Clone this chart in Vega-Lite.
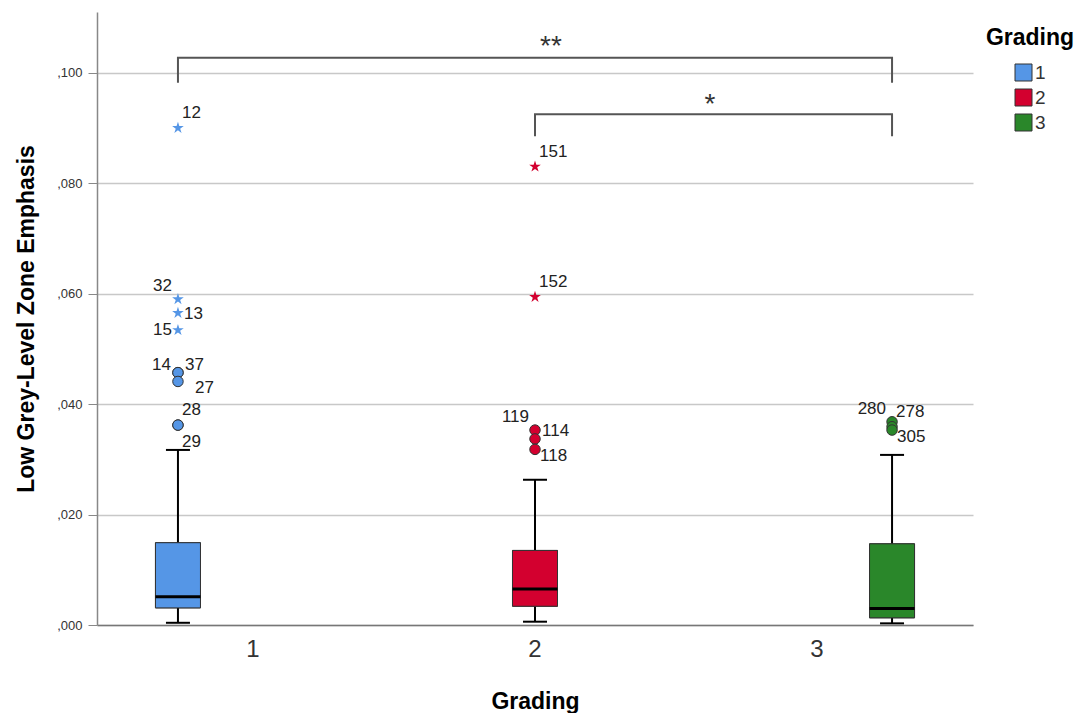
{
  "$schema": "https://vega.github.io/schema/vega-lite/v6.json",
  "width": 876,
  "height": 613,
  "autosize": {"type": "none"},
  "padding": {"left": 97, "top": 12, "right": 114, "bottom": 88},
  "background": "white",
  "config": {
    "view": {"stroke": null},
    "font": "Liberation Sans",
    "axisY": {
      "labelFontSize": 13,
      "labelColor": "#333333",
      "labelPadding": 6,
      "tickSize": 9,
      "tickColor": "#888888",
      "domainColor": "#888888",
      "domainWidth": 1.5,
      "grid": true,
      "gridColor": "#c8c8c8",
      "gridWidth": 1.5,
      "titleFontSize": 23,
      "titleFontWeight": "bold",
      "titleColor": "#000000",
      "titlePadding": 18
    },
    "axisX": {
      "ticks": false,
      "grid": false,
      "labelAngle": 0,
      "labelFontSize": 24,
      "labelColor": "#333333",
      "labelPadding": 12,
      "domainColor": "#777777",
      "domainWidth": 1.5,
      "titleFontSize": 23,
      "titleFontWeight": "bold",
      "titleColor": "#000000",
      "titlePadding": 29
    }
  },
  "datasets": {
    "box": [
      {"g": "1", "lo": 0.0004, "q1": 0.0031, "med": 0.0051, "q3": 0.0149, "hi": 0.0317},
      {"g": "2", "lo": 0.0006, "q1": 0.0034, "med": 0.0065, "q3": 0.0135, "hi": 0.0263},
      {"g": "3", "lo": 0.0003, "q1": 0.0013, "med": 0.0030, "q3": 0.0147, "hi": 0.0308}
    ],
    "out": [
      {"g": "1", "id": "12", "kind": "extreme", "v": 0.0900},
      {"g": "1", "id": "32", "kind": "extreme", "v": 0.0590},
      {"g": "1", "id": "13", "kind": "extreme", "v": 0.0565},
      {"g": "1", "id": "15", "kind": "extreme", "v": 0.0534},
      {"g": "1", "id": "14", "kind": "outlier", "v": 0.0457},
      {"g": "1", "id": "37", "kind": "outlier", "v": 0.0457},
      {"g": "1", "id": "27", "kind": "outlier", "v": 0.0441},
      {"g": "1", "id": "28", "kind": "outlier", "v": 0.0362},
      {"g": "1", "id": "29", "kind": "outlier", "v": 0.0362},
      {"g": "2", "id": "151", "kind": "extreme", "v": 0.0830},
      {"g": "2", "id": "152", "kind": "extreme", "v": 0.0594},
      {"g": "2", "id": "119", "kind": "outlier", "v": 0.0353},
      {"g": "2", "id": "114", "kind": "outlier", "v": 0.0337},
      {"g": "2", "id": "118", "kind": "outlier", "v": 0.0318},
      {"g": "3", "id": "280", "kind": "outlier", "v": 0.0368},
      {"g": "3", "id": "278", "kind": "outlier", "v": 0.0359},
      {"g": "3", "id": "305", "kind": "outlier", "v": 0.0353}
    ],
    "sig": [
      {"b": "A", "g": "1", "v": 0.0982, "s": 1},
      {"b": "A", "g": "1", "v": 0.1027, "s": 2},
      {"b": "A", "g": "3", "v": 0.1027, "s": 3},
      {"b": "A", "g": "3", "v": 0.0982, "s": 4},
      {"b": "B", "g": "2", "v": 0.0885, "s": 1},
      {"b": "B", "g": "2", "v": 0.0925, "s": 2},
      {"b": "B", "g": "3", "v": 0.0925, "s": 3},
      {"b": "B", "g": "3", "v": 0.0885, "s": 4}
    ]
  },
  "encoding": {
    "x": {
      "field": "g",
      "type": "nominal",
      "title": "Grading",
      "scale": {"domain": ["1", "2", "3"], "paddingInner": 0, "paddingOuter": 0.053}
    },
    "xOffset": {
      "field": "g",
      "type": "nominal",
      "scale": {"domain": ["1", "2", "3"], "paddingInner": 0.4, "paddingOuter": 0.58}
    }
  },
  "layer": [
    {
      "data": {"name": "box"},
      "mark": {"type": "bar", "stroke": "#333333", "strokeWidth": 1},
      "encoding": {
        "y": {
          "field": "q1",
          "type": "quantitative",
          "title": "Low Grey-Level Zone Emphasis",
          "scale": {"domain": [0, 0.111], "nice": false, "zero": true},
          "axis": {
            "values": [0, 0.02, 0.04, 0.06, 0.08, 0.1],
            "labelExpr": "replace(format(datum.value, '.3f'), '0.', ',')"
          }
        },
        "y2": {"field": "q3"},
        "fill": {
          "field": "g",
          "type": "nominal",
          "scale": {"domain": ["1", "2", "3"], "range": ["#5596e6", "#d3002f", "#2a872a"]},
          "legend": {
            "orient": "none",
            "legendX": 889,
            "legendY": 15,
            "title": "Grading",
            "titleFontSize": 23,
            "titleFontWeight": "bold",
            "titleColor": "#000000",
            "titleAnchor": "middle",
            "titlePadding": 13,
            "labelFontSize": 19,
            "labelColor": "#333333",
            "labelOffset": 2,
            "symbolType": "square",
            "symbolSize": 289,
            "symbolStrokeColor": "#333333",
            "symbolStrokeWidth": 1,
            "symbolOpacity": 1,
            "rowPadding": 4
          }
        }
      }
    },
    {
      "data": {"name": "sig"},
      "mark": {"type": "line", "color": "#555555", "strokeWidth": 2, "interpolate": "linear"},
      "encoding": {
        "y": {"field": "v", "type": "quantitative", "title": "Low Grey-Level Zone Emphasis"},
        "detail": {"field": "b"},
        "order": {"field": "s", "type": "quantitative"}
      }
    },
    {
      "data": {"name": "box"},
      "mark": {"type": "rule", "color": "#000000", "strokeWidth": 2},
      "encoding": {
        "y": {"field": "q3", "type": "quantitative", "title": "Low Grey-Level Zone Emphasis"},
        "y2": {"field": "hi"}
      }
    },
    {
      "data": {"name": "box"},
      "mark": {"type": "rule", "color": "#000000", "strokeWidth": 2},
      "encoding": {
        "y": {"field": "lo", "type": "quantitative", "title": "Low Grey-Level Zone Emphasis"},
        "y2": {"field": "q1"}
      }
    },
    {
      "data": {"name": "box"},
      "mark": {"type": "bar", "stroke": "#333333", "strokeWidth": 1},
      "encoding": {
        "y": {"field": "q1", "type": "quantitative", "title": "Low Grey-Level Zone Emphasis"},
        "y2": {"field": "q3"},
        "fill": {"field": "g", "type": "nominal"}
      }
    },
    {
      "data": {"name": "box"},
      "mark": {"type": "tick", "color": "#000000", "size": 45, "thickness": 3, "opacity": 1},
      "encoding": {"y": {"field": "med", "type": "quantitative", "title": "Low Grey-Level Zone Emphasis"}}
    },
    {
      "data": {"name": "box"},
      "mark": {"type": "tick", "color": "#000000", "size": 24, "thickness": 2, "opacity": 1},
      "encoding": {"y": {"field": "hi", "type": "quantitative", "title": "Low Grey-Level Zone Emphasis"}}
    },
    {
      "data": {"name": "box"},
      "mark": {"type": "tick", "color": "#000000", "size": 24, "thickness": 2, "opacity": 1},
      "encoding": {"y": {"field": "lo", "type": "quantitative", "title": "Low Grey-Level Zone Emphasis"}}
    },
    {
      "data": {"name": "out"},
      "transform": [{"filter": "datum.kind == 'outlier'"}],
      "mark": {"type": "point", "shape": "circle", "filled": true, "size": 110, "stroke": "#333333", "strokeWidth": 1, "opacity": 1},
      "encoding": {
        "y": {"field": "v", "type": "quantitative", "title": "Low Grey-Level Zone Emphasis"},
        "fill": {"field": "g", "type": "nominal"}
      }
    },
    {
      "data": {"name": "out"},
      "transform": [{"filter": "datum.kind == 'extreme'"}],
      "mark": {"type": "point", "shape": "M0,-1L0.22,-0.31L0.95,-0.31L0.36,0.12L0.59,0.81L0,0.38L-0.59,0.81L-0.36,0.12L-0.95,-0.31L-0.22,-0.31Z", "filled": true, "size": 150, "strokeWidth": 0, "opacity": 1},
      "encoding": {
        "y": {"field": "v", "type": "quantitative", "title": "Low Grey-Level Zone Emphasis"},
        "fill": {"field": "g", "type": "nominal"}
      }
    },
    {
      "data": {"name": "out"},
      "transform": [{"filter": {"field": "id", "oneOf": ["12", "151", "152", "28", "278"]}}],
      "mark": {"type": "text", "align": "left", "baseline": "middle", "dx": 4, "dy": -15, "fontSize": 17, "color": "#222222"},
      "encoding": {"y": {"field": "v", "type": "quantitative", "title": "Low Grey-Level Zone Emphasis"}, "text": {"field": "id"}}
    },
    {
      "data": {"name": "out"},
      "transform": [{"filter": {"field": "id", "oneOf": ["37", "114"]}}],
      "mark": {"type": "text", "align": "left", "baseline": "middle", "dx": 7, "dy": -8, "fontSize": 17, "color": "#222222"},
      "encoding": {"y": {"field": "v", "type": "quantitative", "title": "Low Grey-Level Zone Emphasis"}, "text": {"field": "id"}}
    },
    {
      "data": {"name": "out"},
      "transform": [{"filter": {"field": "id", "oneOf": ["13"]}}],
      "mark": {"type": "text", "align": "left", "baseline": "middle", "dx": 6, "dy": 1, "fontSize": 17, "color": "#222222"},
      "encoding": {"y": {"field": "v", "type": "quantitative", "title": "Low Grey-Level Zone Emphasis"}, "text": {"field": "id"}}
    },
    {
      "data": {"name": "out"},
      "transform": [{"filter": {"field": "id", "oneOf": ["118", "305"]}}],
      "mark": {"type": "text", "align": "left", "baseline": "middle", "dx": 5, "dy": 7, "fontSize": 17, "color": "#222222"},
      "encoding": {"y": {"field": "v", "type": "quantitative", "title": "Low Grey-Level Zone Emphasis"}, "text": {"field": "id"}}
    },
    {
      "data": {"name": "out"},
      "transform": [{"filter": {"field": "id", "oneOf": ["27"]}}],
      "mark": {"type": "text", "align": "left", "baseline": "middle", "dx": 17, "dy": 7, "fontSize": 17, "color": "#222222"},
      "encoding": {"y": {"field": "v", "type": "quantitative", "title": "Low Grey-Level Zone Emphasis"}, "text": {"field": "id"}}
    },
    {
      "data": {"name": "out"},
      "transform": [{"filter": {"field": "id", "oneOf": ["29"]}}],
      "mark": {"type": "text", "align": "left", "baseline": "middle", "dx": 4, "dy": 17, "fontSize": 17, "color": "#222222"},
      "encoding": {"y": {"field": "v", "type": "quantitative", "title": "Low Grey-Level Zone Emphasis"}, "text": {"field": "id"}}
    },
    {
      "data": {"name": "out"},
      "transform": [{"filter": {"field": "id", "oneOf": ["32", "119", "280"]}}],
      "mark": {"type": "text", "align": "right", "baseline": "middle", "dx": -6, "dy": -13, "fontSize": 17, "color": "#222222"},
      "encoding": {"y": {"field": "v", "type": "quantitative", "title": "Low Grey-Level Zone Emphasis"}, "text": {"field": "id"}}
    },
    {
      "data": {"name": "out"},
      "transform": [{"filter": {"field": "id", "oneOf": ["14"]}}],
      "mark": {"type": "text", "align": "right", "baseline": "middle", "dx": -7, "dy": -8, "fontSize": 17, "color": "#222222"},
      "encoding": {"y": {"field": "v", "type": "quantitative", "title": "Low Grey-Level Zone Emphasis"}, "text": {"field": "id"}}
    },
    {
      "data": {"name": "out"},
      "transform": [{"filter": {"field": "id", "oneOf": ["15"]}}],
      "mark": {"type": "text", "align": "right", "baseline": "middle", "dx": -6, "dy": 0, "fontSize": 17, "color": "#222222"},
      "encoding": {"y": {"field": "v", "type": "quantitative", "title": "Low Grey-Level Zone Emphasis"}, "text": {"field": "id"}}
    },
    {
      "data": {"values": [{"g": "2", "v": 0.1027, "t": "**"}]},
      "mark": {"type": "text", "align": "center", "baseline": "middle", "dx": 16, "dy": -11, "fontSize": 28, "color": "#333333"},
      "encoding": {"y": {"field": "v", "type": "quantitative", "title": "Low Grey-Level Zone Emphasis"}, "text": {"field": "t"}}
    },
    {
      "data": {"values": [{"g": "2", "v": 0.0925, "t": "*"}]},
      "mark": {"type": "text", "align": "center", "baseline": "middle", "dx": 175, "dy": -9, "fontSize": 28, "color": "#333333"},
      "encoding": {"y": {"field": "v", "type": "quantitative", "title": "Low Grey-Level Zone Emphasis"}, "text": {"field": "t"}}
    }
  ]
}
